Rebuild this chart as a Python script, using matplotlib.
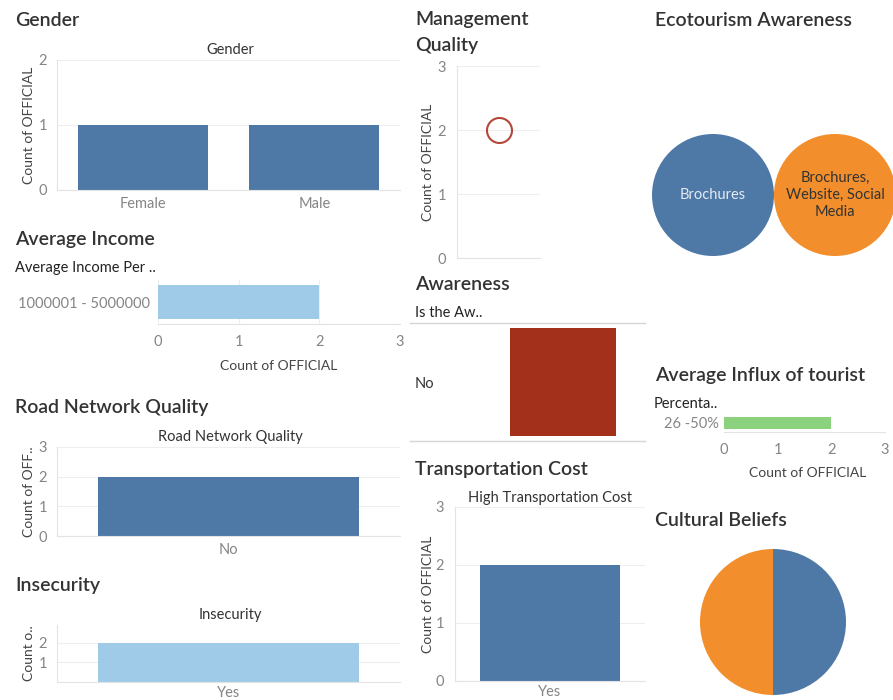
import matplotlib
matplotlib.use("Agg")
import matplotlib.pyplot as plt
import numpy as np
from matplotlib.lines import Line2D
from matplotlib.patches import Circle

# ---------------- data ----------------
gender_cats = ["Female", "Male"]
gender_counts = [1, 1]

income_cats = ["1000001 - 5000000"]
income_counts = [2]

mgmt_counts = [2]

awareness_cats = ["No"]
awareness_counts = [2]

road_cats = ["No"]
road_counts = [2]

insecurity_cats = ["Yes"]
insecurity_counts = [2]

transport_cats = ["Yes"]
transport_counts = [2]

eco_cats = ["Brochures", "Brochures,\nWebsite, Social\nMedia"]
eco_counts = [1, 1]

influx_cats = ["26 -50%"]
influx_counts = [2]

culture_counts = [1, 1]

# ---------------- style ----------------
plt.rcParams['font.family'] = ['Lato', 'DejaVu Sans']
BLUE = '#4e79a7'
ORANGE = '#f28e2b'
LBLUE = '#a0cbe8'
GREEN = '#8cd17d'
RED = '#a3301a'
TITLE_C = '#333333'
TICK_C = '#858585'
LAB_C = '#444444'
TICK_FS = 10.5
SUB_FS = 10.5

W, H = 893, 700
fig = plt.figure(figsize=(W / 100, H / 100), dpi=100)
fig.patch.set_facecolor('white')


def ax_px(l, t, r, b):
    return fig.add_axes([l / W, 1 - b / H, (r - l) / W, (b - t) / H])


def ftext(x, y, s, **kw):
    return fig.text(x / W, 1 - y / H, s, **kw)


def title(x, y, s):
    ftext(x, y, s, fontsize=14, color=TITLE_C, ha='left', va='center',
          fontweight='semibold')


def style(ax, grid_axis='y'):
    for s in ['top', 'right']:
        ax.spines[s].set_visible(False)
    for s in ['left', 'bottom']:
        ax.spines[s].set_color('#e3e3e3')
        ax.spines[s].set_linewidth(0.8)
    ax.tick_params(length=0, colors=TICK_C, labelsize=TICK_FS)
    if grid_axis:
        ax.grid(axis=grid_axis, color='#eeeeee', lw=0.8)
    ax.set_axisbelow(True)


def ylabel(ax, s, xfrac):
    ax.set_ylabel(s, fontsize=10, color=LAB_C)
    ax.yaxis.set_label_coords(xfrac, 0.5)


# ---------------- Gender ----------------
title(15, 20, "Gender")
ftext(230, 50, "Gender", fontsize=SUB_FS, color=TITLE_C, ha='center', va='center')
ax = ax_px(57, 60, 400, 190)
style(ax)
ax.bar(np.arange(len(gender_cats)), gender_counts, width=0.76, color=BLUE)
ax.set_xlim(-0.5, len(gender_cats) - 0.5)
ax.set_ylim(0, 2)
ax.set_yticks([0, 1, 2])
ax.set_xticks(np.arange(len(gender_cats)))
ax.set_xticklabels(gender_cats)
ax.tick_params(axis='x', pad=5)
ax.tick_params(axis='y', pad=7)
ylabel(ax, "Count of OFFICIAL", (35 - 57) / 343)

# ---------------- Average Income ----------------
title(15, 240, "Average Income")
ftext(15, 268, "Average Income Per ..", fontsize=SUB_FS, color='#222222', ha='left', va='center')
ax = ax_px(158, 280, 400, 324)
style(ax, grid_axis='x')
ax.barh(np.arange(len(income_cats)), income_counts, height=0.77, color=LBLUE)
ax.set_ylim(-0.5, 0.5)
ax.set_xlim(0, 3)
ax.set_xticks([0, 1, 2, 3])
ax.set_yticks(np.arange(len(income_cats)))
ax.set_yticklabels(income_cats)
ax.spines['left'].set_visible(False)
ax.tick_params(axis='x', pad=8)
ax.tick_params(axis='y', pad=6)
ax.set_xlabel("Count of OFFICIAL", fontsize=10, color=LAB_C)
ax.xaxis.label.set_va('center')
ax.xaxis.set_label_coords(0.5, (324 - 366) / 44)

# ---------------- Management Quality ----------------
title(415, 20, "Management")
title(415, 45, "Quality")
ax = ax_px(457, 66, 540, 258)
style(ax)
ax.plot(np.zeros(len(mgmt_counts)), mgmt_counts, 'o', mfc='none', mec='#b5473a',
        ms=18, mew=1.5)
ax.set_xlim(-0.5, 0.5)
ax.set_ylim(0, 3)
ax.set_yticks([0, 1, 2, 3])
ax.set_xticks([])
ax.tick_params(axis='y', pad=8)
ylabel(ax, "Count of OFFICIAL", (434 - 457) / 83)

# ---------------- Awareness ----------------
title(415, 285, "Awareness")
ftext(415, 313, "Is the Aw..", fontsize=SUB_FS, color='#222222', ha='left', va='center')
for yy in (323, 441):
    fig.add_artist(Line2D([410 / W, 645 / W], [1 - yy / H, 1 - yy / H],
                          color='#d5d5d5', lw=1))
ax = ax_px(510, 323, 616, 441)
ax.barh(np.arange(len(awareness_cats)), awareness_counts, height=0.907, color=RED)
ax.set_ylim(-0.5, 0.5)
ax.set_xlim(0, max(awareness_counts))
for s in ax.spines.values():
    s.set_visible(False)
ax.set_xticks([])
ax.set_yticks(np.arange(len(awareness_cats)))
ax.set_yticklabels(awareness_cats, ha='left')
ax.tick_params(axis='y', length=0, pad=(510 - 415) * 0.72, labelsize=TICK_FS, colors=TITLE_C)

# ---------------- Road Network Quality ----------------
title(15, 408, "Road Network Quality")
ftext(230, 437, "Road Network Quality", fontsize=SUB_FS, color=TITLE_C, ha='center', va='center')
ax = ax_px(57, 447, 400, 536)
style(ax)
ax.bar(np.arange(len(road_cats)), road_counts, width=0.76, color=BLUE)
ax.set_xlim(-0.5, 0.5)
ax.set_ylim(0, 3)
ax.set_yticks([0, 1, 2, 3])
ax.set_xticks(np.arange(len(road_cats)))
ax.set_xticklabels(road_cats)
ax.tick_params(axis='x', pad=5)
ax.tick_params(axis='y', pad=7)
ylabel(ax, "Count of OFF..", (35 - 57) / 343)

# ---------------- Insecurity ----------------
title(15, 586, "Insecurity")
ftext(230, 615, "Insecurity", fontsize=SUB_FS, color=TITLE_C, ha='center', va='center')
ax = ax_px(57, 625, 400, 682)
style(ax)
ax.bar(np.arange(len(insecurity_cats)), insecurity_counts, width=0.76, color=LBLUE)
ax.set_xlim(-0.5, 0.5)
ax.set_ylim(0, 2.9)
ax.set_yticks([1, 2])
ax.set_xticks(np.arange(len(insecurity_cats)))
ax.set_xticklabels(insecurity_cats)
ax.tick_params(axis='x', pad=3)
ax.tick_params(axis='y', pad=7)
ylabel(ax, "Count o..", (35 - 57) / 343)

# ---------------- Transportation Cost ----------------
title(415, 469, "Transportation Cost")
ftext(550, 498, "High Transportation Cost", fontsize=SUB_FS, color=TITLE_C, ha='center', va='center')
ax = ax_px(455, 507, 645, 681)
style(ax)
ax.bar(np.arange(len(transport_cats)), transport_counts, width=0.74, color=BLUE)
ax.set_xlim(-0.5, 0.5)
ax.set_ylim(0, 3)
ax.set_yticks([0, 1, 2, 3])
ax.set_xticks(np.arange(len(transport_cats)))
ax.set_xticklabels(transport_cats)
ax.tick_params(axis='x', pad=3)
ax.tick_params(axis='y', pad=8)
ylabel(ax, "Count of OFFICIAL", (434 - 455) / 190)

# ---------------- Ecotourism Awareness ----------------
title(655, 20, "Ecotourism Awareness")
ax = ax_px(652, 134, 893, 256)
ax.set_axis_off()
radii = np.sqrt(np.array(eco_counts) / max(eco_counts))
centers = []
xpos = 0.0
for r in radii:
    centers.append(xpos + r)
    xpos += 2 * r
eco_colors = [BLUE, ORANGE]
eco_text_colors = ['#e4ebf3', '#333333']
for cx, r, c, lab, tc in zip(centers, radii, eco_colors, eco_cats, eco_text_colors):
    ax.add_patch(Circle((cx, 0), r, color=c, lw=0))
    ax.text(cx, 0, lab, ha='center', va='center', fontsize=10.5, color=tc,
            linespacing=1.3)
ax.set_xlim(0, 241 / 61)
ax.set_ylim(-1, 1)

# ---------------- Average Influx of tourist ----------------
title(655, 376, "Average Influx of tourist")
ftext(654, 404, "Percenta..", fontsize=SUB_FS, color='#222222', ha='left', va='center')
ax = ax_px(724, 414, 885, 432)
style(ax, grid_axis=None)
ax.barh(np.arange(len(influx_cats)), influx_counts, height=0.667, color=GREEN)
ax.set_ylim(-0.5, 0.5)
ax.set_xlim(0, 3)
ax.set_xticks([0, 1, 2, 3])
ax.set_yticks(np.arange(len(influx_cats)))
ax.set_yticklabels(influx_cats)
ax.spines['left'].set_visible(False)
ax.tick_params(axis='x', pad=8)
ax.tick_params(axis='y', pad=4)
ax.set_xlabel("Count of OFFICIAL", fontsize=10, color=LAB_C)
ax.xaxis.label.set_va('center')
ax.xaxis.set_label_coords((808 - 724) / 161, (432 - 473) / 18)

# ---------------- Cultural Beliefs ----------------
title(655, 521, "Cultural Beliefs")
ax = ax_px(700, 549, 846, 695)
ax.pie(culture_counts, colors=[BLUE, ORANGE], startangle=90, counterclock=False,
       radius=1, wedgeprops=dict(linewidth=0))
ax.set_xlim(-1, 1)
ax.set_ylim(-1, 1)
ax.set_aspect('equal')

fig.savefig("out.png", dpi=100, facecolor='white')
